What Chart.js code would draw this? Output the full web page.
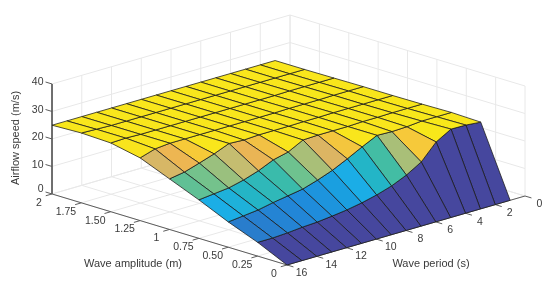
<!DOCTYPE html>
<html><head><meta charset="utf-8">
<style>html,body{margin:0;padding:0;background:#fff}canvas{display:block}</style>
<script src="https://cdn.jsdelivr.net/npm/chart.js@4"></script>
</head><body>
<div style="width:550px;height:286px"><canvas id="c" width="550" height="286"></canvas></div>
<script>
const periods = [1,2,3,4,5,6,7,8,9,10,11,12,13,14,15,16];
const amplitudes = [0,0.25,0.5,0.75,1,1.25,1.5,1.75,2];
const speedAmp000 = [0,0,0,0,0,0,0,0,0,0,0,0,0,0,0,0];
const speedAmp025 = [25.2,25.7,25.8,22.7,17,13.8,11.4,9.7,8.4,7.4,6.7,6.1,5.8,5.3,5,5];
const speedAmp050 = [25.5,25.5,25.5,25,24.8,25,22.4,19.6,17,15,13.3,12.4,11.5,10.4,9.8,9.2];
const speedAmp075 = [25.3,25.3,25.3,25.2,25.2,25,25,25,24.8,22,20.7,18.3,16.5,15.2,14.6,14];
const speedAmp100 = [25.2,25.2,25.2,25.2,25.2,25.1,25.1,25,25,25,24.7,25,22.8,21,19.3,18.4];
const speedAmp125 = [25.2,25.2,25.2,25.1,25.1,25.1,25,25,25,25,25,25,25,25,24.5,22.8];
const speedAmp150 = [25.1,25.1,25.1,25.1,25,25,25,25,25,25,25,25,25,25,25.2,25];
const speedAmp175 = [25,25,25,25,25,25,25,25,25,25,25,25,25,25,25.2,25.4];
const speedAmp200 = [25,25,25,25,25,25,25,25,25,25,25,25,25,25,25,25];
const speedRows = [speedAmp000,speedAmp025,speedAmp050,speedAmp075,speedAmp100,speedAmp125,speedAmp150,speedAmp175,speedAmp200];
const periodTicks = [0,2,4,6,8,10,12,14,16];
const ampTicks = [0,0.25,0.5,0.75,1,1.25,1.5,1.75,2];
const ampTickLabels = ['0','0.25','0.50','0.75','1','1.25','1.50','1.75','2'];
const speedTicks = [0,10,20,30,40];

const project = (p,a,z) => ({
  x: 525 - 14.875*p - 117.5*a,
  y: 196 + 4.31*p - 35.5*a - 2.75*z
});
const colormap = [
 [0,'#46479e'],[0.10,'#3560bd'],[0.19,'#2a7ccb'],[0.25,'#2089da'],[0.33,'#1aa0e0'],[0.38,'#1baee6'],
 [0.44,'#22b5c8'],[0.53,'#3fbca6'],[0.58,'#6dc28f'],[0.66,'#aabf78'],[0.71,'#c5bd70'],[0.76,'#dcb563'],
 [0.81,'#ecb553'],[0.88,'#f6c93a'],[0.95,'#f9e41d'],[1,'#f8e81a']];
function hex(c){return [1,3,5].map(i=>parseInt(c.substr(i,2),16));}
function colorFor(z){
  const t=Math.min(1,Math.max(0,z/25.8));
  for(let i=1;i<colormap.length;i++){
    if(t<=colormap[i][0]){
      const [t0,c0]=colormap[i-1],[t1,c1]=colormap[i];
      const f=(t-t0)/(t1-t0),a=hex(c0),b=hex(c1);
      return 'rgb('+a.map((v,k)=>Math.round(v+(b[k]-v)*f)).join(',')+')';
    }
  }
  return colormap[colormap.length-1][1];
}
const datasets=[];
function line(pts,color,width,order){
  datasets.push({type:'line',data:pts,borderColor:color,borderWidth:width,pointRadius:0,fill:false,tension:0,order,borderCapStyle:'butt'});
}
const GRID='#e8e8e8', AXIS='#5c5c5c', TOPZ=40, P0=0,P1=16,A0=0,A1=2;
const gridOrder=100000, axisOrder=99999;
periodTicks.forEach(p=>{
  line([project(p,A0,0),project(p,A1,0),project(p,A1,TOPZ)],GRID,1,gridOrder);
});
ampTicks.forEach(a=>{
  line([project(P1,a,0),project(P0,a,0),project(P0,a,TOPZ)],GRID,1,gridOrder);
});
speedTicks.forEach(z=>{
  line([project(P1,A1,z),project(P0,A1,z),project(P0,A0,z)],GRID,1,gridOrder);
});
line([project(P1,A1,TOPZ),project(P1,A1,0),project(P1,A0,0),project(P0,A0,0)],AXIS,1,axisOrder);
speedTicks.forEach(z=>line([project(P1,A1,z),project(P1,A1+0.055,z)],AXIS,1,axisOrder));
ampTicks.forEach(a=>line([project(P1,a,0),project(P1+0.42,a,0)],AXIS,1,axisOrder));
periodTicks.forEach(p=>line([project(p,A0,0),project(p,A0-0.055,0)],AXIS,1,axisOrder));
for(let i=0;i<amplitudes.length-1;i++){
  for(let j=0;j<periods.length-1;j++){
    const pts=[[i,j],[i,j+1],[i+1,j+1],[i+1,j],[i,j]].map(([r,c])=>project(periods[c],amplitudes[r],speedRows[r][c]));
    const col=colorFor(speedRows[i][j]);
    datasets.push({type:'line',data:pts,backgroundColor:col,borderColor:'rgba(25,25,25,0.9)',borderWidth:0.85,
      pointRadius:0,fill:'shape',tension:0,borderJoinStyle:'miter',order:(amplitudes.length-i)*100-j});
  }
}
const TEXT='#3a3a3a';
const labels={id:'labels',afterDraw(chart){
  const {ctx,scales:{x,y}}=chart;
  const at=(q)=>({x:x.getPixelForValue(q.x),y:y.getPixelForValue(q.y)});
  ctx.save();ctx.fillStyle=TEXT;ctx.textBaseline='middle';
  ctx.font='10.5px "Liberation Sans"';
  ctx.textAlign='right';
  speedTicks.forEach(z=>{const q=at(project(P1,A1,z));ctx.fillText(String(z),q.x-8.5,q.y-(z===0?5:1.5));});
  ctx.textAlign='center';
  ampTicks.forEach((a,i)=>{const q=at(project(P1,a,0));const s=ampTickLabels[i];
    ctx.fillText(s,q.x-(s.length===1?13:15.5),q.y+9);});
  periodTicks.forEach(p=>{const q=at(project(p,A0,0));ctx.fillText(String(p),q.x+14.5,q.y+8.5);});
  ctx.font='11px "Liberation Sans"';
  ctx.fillText('Wave amplitude (m)',133,264);
  ctx.fillText('Wave period (s)',431,264);
  ctx.translate(16,138);ctx.rotate(-Math.PI/2);
  ctx.fillText('Airflow speed (m/s)',0,0);
  ctx.restore();
}};
new Chart(document.getElementById('c'),{
  type:'line',
  data:{datasets},
  plugins:[labels],
  options:{responsive:false,animation:false,parsing:true,
    layout:{padding:0},
    plugins:{legend:{display:false},tooltip:{enabled:false},title:{display:false}},
    scales:{x:{type:'linear',min:0,max:550,display:false},y:{type:'linear',min:0,max:286,reverse:true,display:false}},
    elements:{line:{borderJoinStyle:'miter'}}
  }
});
</script>
</body></html>
